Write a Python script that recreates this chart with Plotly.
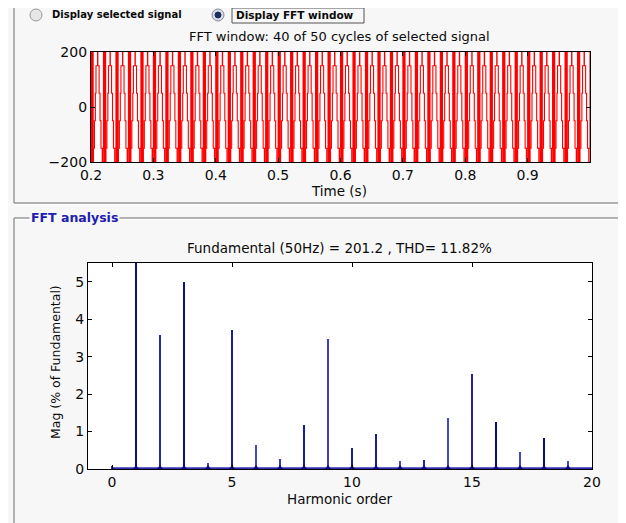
import plotly.graph_objects as go

# ---------------- data ----------------
# one cycle of the displayed waveform (levels, 0.5 ms apart)
cycle_levels = [260, -260, 260, -260, 260, -260, 260, -260,
                -150, -150, -150, -50, -50, -50, 50, 50,
                150, 150, 150, 150, 150, 260,
                150, 150, 150, 150, 50, 50, 50, -50, -50, -50,
                -150, -150, -150, -150, -260, -150, -150, -150]
sample_step_s = 0.0005
window_start_s = 0.2
window_cycles = 40

time_ticks = [0.2, 0.3, 0.4, 0.5, 0.6, 0.7, 0.8, 0.9]
signal_ticks = [-200, 0, 200]

harmonic_orders = [0, 1, 2, 3, 4, 5, 6, 7, 8, 9, 10, 11, 12, 13, 14, 15, 16, 17, 18, 19]
magnitudes_pct = [0.08, 100.0, 3.58, 5.0, 0.17, 3.7, 0.65, 0.28, 1.18, 3.47,
                  0.57, 0.94, 0.22, 0.25, 1.37, 2.53, 1.25, 0.46, 0.84, 0.21]
harmonic_ticks = [0, 5, 10, 15, 20]
mag_ticks = [0, 1, 2, 3, 4, 5]

bar_colors = ['#2a2aa8', '#101088', '#2a2aa8', '#101088', '#4848c0', '#1c1c96',
              '#4848c0', '#3a3ab4', '#1c1c96', '#4040bc', '#1c1c96', '#1c1c96',
              '#4848c0', '#2a2aa8', '#4848c0', '#2424a0', '#0c0c80', '#4848c0',
              '#0c0c80', '#4848c0']

top_title = "FFT window: 40 of 50 cycles of selected signal"
bottom_title = "Fundamental (50Hz) = 201.2 , THD= 11.82%"

# ---------------- build ----------------
W, H = 626, 523
OFF = 8  # page body margin of the browser
def px(x):
    return (x - OFF) / W
def py(y):
    return 1 - (y - OFF) / H

n = window_cycles * len(cycle_levels)
t = [window_start_s + k * sample_step_s for k in range(n + 1)]
v = [cycle_levels[k % len(cycle_levels)] for k in range(n + 1)]

FONT = "DejaVu Sans"
TXT = "#0a0a0a"
BG = "#f7f7f7"

fig = go.Figure()
fig.add_trace(go.Scatter(x=t, y=v, mode="lines",
                         line=dict(color="#ff0000", width=1.1, shape="hv"),
                         xaxis="x", yaxis="y", hoverinfo="skip"))

# baseline of the spectrum (near-zero bins)
fig.add_trace(go.Scatter(x=[harmonic_orders[0], harmonic_orders[-1] + 1],
                         y=[0.02, 0.02], mode="lines",
                         line=dict(color="#3030b4", width=2),
                         xaxis="x2", yaxis="y2", hoverinfo="skip"))
fig.add_trace(go.Bar(x=harmonic_orders, y=magnitudes_pct, width=0.12,
                     marker=dict(color=bar_colors, line=dict(width=0)),
                     xaxis="x2", yaxis="y2"))
fig.add_trace(go.Scatter(x=harmonic_orders[1:], y=[0.03] * (len(harmonic_orders) - 1),
                         mode="markers",
                         marker=dict(symbol="triangle-up", size=6, color="#101080"),
                         xaxis="x2", yaxis="y2", hoverinfo="skip"))

axis_common = dict(showline=True, linecolor="#000000", linewidth=1.3, mirror="ticks",
                   ticks="inside", ticklen=4, tickcolor="#000000", showgrid=False,
                   zeroline=False, automargin=False,
                   tickfont=dict(family=FONT, size=14, color=TXT))

fig.update_layout(
    width=W, height=H, margin=dict(l=0, r=0, t=0, b=0, pad=0), autosize=False,
    paper_bgcolor=BG, plot_bgcolor="#ffffff", showlegend=False, bargap=0,
    xaxis=dict(domain=[px(91), px(590)], anchor="y", range=[0.2, 1.0],
               tickvals=time_ticks, ticktext=[f"{x:.1f}" for x in time_ticks], **axis_common),
    yaxis=dict(domain=[py(162), py(52)], anchor="x", range=[-200, 200],
               tickvals=signal_ticks, **axis_common),
    xaxis2=dict(domain=[px(88), px(592)], anchor="y2", range=[-1, 20],
                tickvals=harmonic_ticks, **axis_common),
    yaxis2=dict(domain=[py(469), py(263)], anchor="x2", range=[0, 5.5],
                tickvals=mag_ticks, **axis_common),
)

ann = []
def text(x, y, s, size=13, color=TXT, bold=False, xanchor="center", angle=0, bg=None):
    ann.append(dict(x=px(x), y=py(y), xref="paper", yref="paper", text=(f"<b>{s}</b>" if bold else s),
                    showarrow=False, xanchor=xanchor, yanchor="middle", textangle=angle,
                    font=dict(family=FONT, size=size, color=color),
                    bgcolor=bg, borderpad=1))

text(339, 37, top_title, size=13)
text(339, 191, "Time (s)", size=13.5)
text(339, 248, bottom_title, size=13.5)
text(340, 499, "Harmonic order", size=13.5)
text(55, 362, "Mag (% of Fundamental)", size=12.5, angle=-90)
text(50, 15, "Display selected signal", size=10, bold=True, xanchor="left")
text(234, 15, "Display FFT window", size=10.5, bold=True, xanchor="left")
text(29, 217, "FFT analysis", size=12.5, color="#2020b0", bold=True, xanchor="left", bg=BG)
fig.update_layout(annotations=ann)

shapes = []
def line(x0, y0, x1, y1, color="#9a9a9a", width=1.5):
    shapes.append(dict(type="line", xref="paper", yref="paper", x0=px(x0), y0=py(y0),
                       x1=px(x1), y1=py(y1), line=dict(color=color, width=width), layer="below"))
# top panel frame
line(14, 0, 14, 203)
line(14, 203, 622, 203)
line(622, 0, 622, 203)
line(14, 205, 622, 205, color="#ffffff", width=1)
# bottom panel frame
line(14, 218, 621, 218)
line(14, 218, 14, 531)
line(621, 218, 621, 531)
line(15, 219.5, 620, 219.5, color="#ffffff", width=1)
# radio buttons
def circle(cx, cy, r, fill, edge, w=1):
    shapes.append(dict(type="circle", xref="paper", yref="paper",
                       x0=px(cx - r), x1=px(cx + r), y0=py(cy + r), y1=py(cy - r),
                       fillcolor=fill, line=dict(color=edge, width=w)))
circle(36, 15, 6, "#e6e6e6", "#9a9a9a")
circle(218, 15, 6, "#d8dce8", "#8a8a9a")
circle(218, 15, 3, "#1c2c5c", "#1c2c5c")
shapes.append(dict(type="rect", xref="paper", yref="paper", x0=px(232), x1=px(364),
                   y0=py(23), y1=py(8), line=dict(color="#555555", width=1)))
fig.update_layout(shapes=shapes)

fig.write_html("out.html")
